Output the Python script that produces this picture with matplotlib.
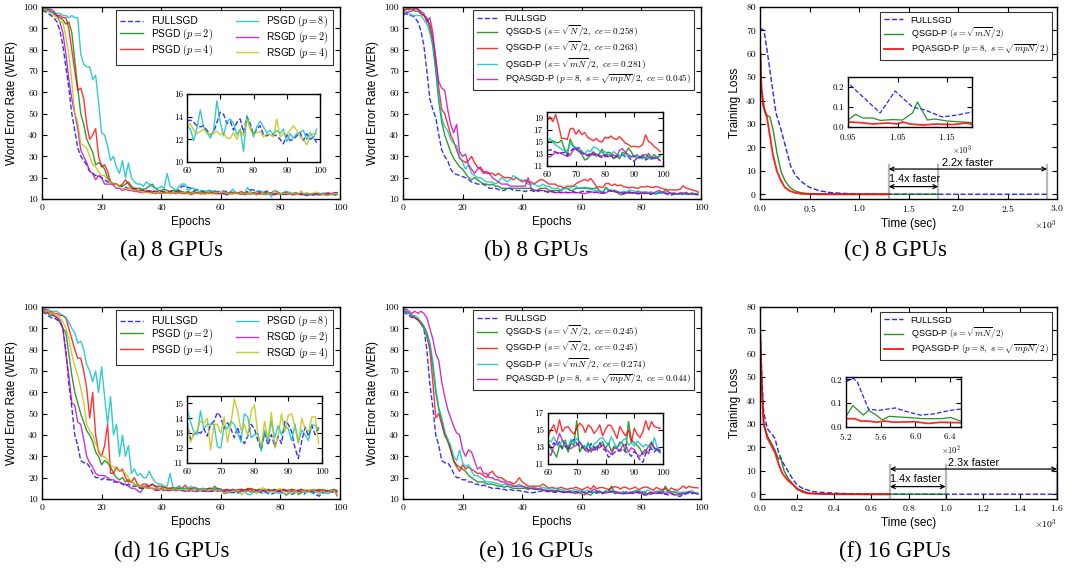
import matplotlib
matplotlib.use("Agg")
import matplotlib.pyplot as plt
from matplotlib.ticker import ScalarFormatter

plt.rcParams["font.family"] = ["Liberation Sans", "DejaVu Sans"]
plt.rcParams["mathtext.fontset"] = "cm"
plt.rcParams["axes.linewidth"] = 1.0

EPOCHS = list(range(100))

# ---- (a) 8 GPUs, PSGD / RSGD
a_full = [98, 98, 97, 96, 95, 93, 89, 82, 72, 62, 50, 42, 34, 30, 28, 26, 23, 22, 21, 21,
          20, 19, 18, 18, 17, 17, 16, 16, 15.5, 15, 15, 14.5, 14.5, 14, 14, 14, 13.5, 14, 13.5, 13.5,
          13.5, 13.5, 13, 13.5, 14, 13.5, 14.5, 16, 16, 15.5, 15, 14, 14.5, 14, 13.5, 13.5, 14, 13.5, 13.5, 13.5,
          13.6, 13.7, 13.5, 13.2, 13.1, 13.2, 12.8, 12.4, 12.6, 13.5, 14.4, 14.2, 13.4, 13.6, 12.8, 13.5, 13.8, 12.6, 14.0, 13.4,
          12.4, 12.9, 13.2, 12.4, 12.3, 12.5, 12.4, 12.3, 12.0, 11.6, 12.4, 11.9, 12.0, 12.3, 12.6, 11.9, 12.5, 12.0, 12.2, 11.7]
a_p2 = [99, 98, 99, 98, 97, 96, 95, 94, 92, 93, 88, 75, 62, 50, 45, 38, 35, 32, 26, 27,
        26, 24, 20, 18, 17, 17, 16, 16, 17, 18, 16, 15, 15, 15, 14.5, 15, 16, 17, 15, 14,
        14, 14.5, 14, 13.5, 14, 13.5, 14, 13.5, 13, 13.5, 13, 13.5, 13, 13, 13.5, 13, 12.5, 13, 13, 12.5,
        13, 12.5, 13, 13, 12.5, 13, 12.5, 12.5, 13, 12.5, 12.5, 13, 12.5, 12.5, 12.5, 13, 12.5, 12.5, 12, 12.5,
        12.5, 12, 12.5, 12.5, 12, 12.5, 12.5, 12, 12.5, 12, 12, 12.5, 12, 12, 12.5, 12, 12, 12.5, 12, 12]
a_p4 = [99, 99, 98, 98, 97, 96, 96, 95, 95, 90, 80, 70, 61, 62, 57, 45, 38, 40, 43, 30,
        25, 26, 23, 18, 17, 17, 16, 17, 19, 17, 15, 15, 14, 14, 14, 13.5, 14, 13.5, 13.5, 13,
        13.5, 13, 13, 13.5, 13, 13, 13.5, 13, 12.5, 13, 12, 13, 13, 12.5, 13, 12.5, 13, 13, 13.5, 13,
        13, 12.5, 13, 12.5, 13, 12.5, 13, 13.5, 12.5, 13, 12.5, 13, 12.5, 13, 12.5, 12.5, 13, 12.5, 12.5, 13,
        12.5, 12.5, 13, 12.5, 12.5, 13, 12.5, 12, 12.5, 12.5, 12.5, 12, 12.5, 12.5, 12, 12.5, 13, 12.5, 12.5, 13]
a_p8 = [98, 99, 99, 98, 97, 97, 97, 96, 96, 95, 96, 95, 95, 78, 73, 72, 72, 66, 68, 55,
        41, 40, 35, 28, 30, 25, 22, 28, 20, 27, 20, 18, 17, 17, 16, 18, 17, 16, 15, 15,
        16, 15, 22, 16, 15, 14, 16, 17, 17, 14, 15, 15, 14, 13.5, 14, 13.5, 14, 13.5, 14, 13,
        13.2, 12.9, 11.9, 13.0, 14.6, 13.1, 12.6, 12.1, 12.8, 15.4, 13.5, 12.3, 13.6, 13.8, 13.4, 12.4, 12.9, 10.9, 14.1, 13.2,
        12.2, 13.1, 13.6, 13.1, 12.6, 12.8, 12.4, 12.8, 12.5, 12.9, 11.8, 12.5, 12.1, 12.5, 12.6, 12.8, 12.0, 12.6, 12.1, 12.9]
a_r2 = [99, 99, 99, 99, 98, 96, 93, 88, 78, 66, 57, 50, 43, 33, 30, 27, 23, 22, 19, 21,
        20, 17, 17, 17, 16.5, 15, 15, 14, 14.5, 14, 14, 13.5, 13.5, 13, 13, 13.5, 13, 13, 12.5, 13,
        12.5, 13, 13, 12.5, 13, 12.5, 13, 12.5, 13, 12.5, 12.5, 12.5, 13, 12.5, 12.5, 12.5, 13, 12.5, 12.5, 12.5,
        12.5, 12.5, 12, 12.5, 12.5, 13, 12.5, 12.5, 12, 12.5, 12.5, 12.5, 12, 12.5, 12.5, 12, 12.5, 12.5, 12, 12.5,
        12.5, 12.5, 12, 12.5, 12, 12, 12.5, 12.5, 12, 12, 12.5, 12, 12.5, 12, 12, 12.5, 12, 12.5, 13, 13]
a_r4 = [98, 99, 98, 97, 96, 95, 93, 93, 86, 78, 65, 50, 46, 36, 35, 34, 30, 26, 25, 23,
        21, 21, 19, 18, 17, 17, 16, 15, 15, 15, 14.5, 14, 14, 13.5, 13, 13, 13, 12.5, 13, 13,
        13, 12.5, 13, 12.5, 13, 13, 12.5, 13, 13, 12.5, 12.5, 13, 12.5, 13, 12.5, 12.5, 13, 12.5, 13, 13,
        13.1, 13.4, 12.8, 12.5, 12.7, 12.9, 12.6, 12.4, 12.6, 12.7, 12.4, 12.6, 12.1, 12.1, 12.6, 12.0, 12.8, 12.3, 13.8, 12.9,
        12.5, 12.6, 12.7, 12.2, 12.5, 12.4, 12.2, 13.8, 12.2, 12.5, 12.4, 12.8, 13.2, 12.8, 12.2, 12.0, 11.5, 12.3, 12.5, 12.5]

# ---- (b) 8 GPUs, QSGD / PQASGD
b_full = [97, 97, 96, 96, 95, 93, 89, 82, 70, 57, 52, 48, 40, 33, 30, 28, 24, 22, 21.5, 21,
          20.5, 20, 19, 18, 17.5, 17, 17, 17, 16, 15, 15, 15, 14.5, 14, 14, 15, 15, 14, 14, 14,
          14, 13.5, 14, 14, 13.5, 13.5, 14, 14, 13.5, 13, 13.5, 13, 13.5, 13, 13.5, 13, 13, 13.5, 13, 13,
          13.5, 13.7, 13.6, 13.3, 13.0, 13.2, 13.3, 12.7, 13.4, 13.9, 13.6, 14.1, 13.2, 12.9, 12.7, 13.2, 12.8, 13.0, 12.6, 12.4,
          12.8, 12.5, 12.9, 12.2, 12.6, 12.7, 12.9, 12.5, 12.6, 12.0, 11.8, 12.3, 12.6, 12.4, 12.0, 12.3, 12.2, 12.4, 12.1, 12.0]
b_s = [98, 99, 99, 99, 98, 98, 97, 96, 95, 90, 82, 70, 56, 46, 40, 36, 32, 29, 27, 25,
       24, 22, 20, 19, 20, 19, 18, 17, 17, 16.5, 17, 16, 16, 15, 15, 15, 15, 15, 15, 15,
       15, 15, 15, 15, 14, 14, 15, 15, 15, 14, 14, 14, 14, 14, 15, 15, 14, 14, 15, 15,
       15.2, 15.0, 15.2, 14.9, 14.9, 15.3, 13.9, 12.8, 15.5, 14.4, 13.8, 13.4, 12.9, 12.0, 12.2, 12.9, 13.4, 12.6, 13.0, 13.8,
       12.5, 13.3, 13.2, 12.2, 12.8, 12.2, 13.3, 13.0, 14.0, 13.4, 12.5, 12.9, 12.4, 12.8, 12.2, 13.1, 12.4, 12.9, 12.3, 12.8]
b_p = [98, 99, 99, 100, 99, 99, 97, 96, 94, 92, 85, 76, 62, 52, 50, 45, 40, 37, 33, 29,
       28, 27, 28, 30, 27, 25, 24, 22, 23, 22, 22, 21, 22, 21, 20, 20, 20, 19, 20, 19,
       18, 19, 18, 18, 17, 18, 19, 19, 18, 17, 17, 17, 16, 16, 15, 16, 16, 16, 17, 18,
       18.5, 19.2, 18.4, 19.6, 17.8, 15.6, 15.6, 15.4, 17.2, 17.3, 16.3, 17.0, 16.2, 16.6, 15.8, 15.5, 15.2, 15.6, 15.1, 15.0,
       15.8, 15.6, 16.0, 15.6, 15.4, 15.9, 15.4, 14.8, 14.6, 14.2, 14.3, 14.2, 14.2, 14.6, 16.2, 15.1, 14.8, 14.2, 13.9, 13.4]
b_pm = [97, 98, 97, 96, 96, 96, 96, 94, 92, 88, 82, 72, 58, 48, 44, 42, 38, 36, 35, 30,
        27, 24, 26, 22, 21, 20, 20, 19, 18, 18, 18, 17, 18, 20, 19, 18, 19, 21, 20, 19,
        19, 18, 17, 17, 17, 16, 16, 17, 16, 16, 15, 15, 15, 14, 15, 15, 15, 16, 16, 15,
        15.1, 15.6, 14.9, 14.5, 14.2, 13.8, 13.6, 13.5, 14.8, 14.3, 14.1, 14.0, 13.5, 13.0, 13.6, 13.4, 14.2, 14.0, 13.6, 13.2,
        13.4, 13.0, 12.8, 13.4, 13.0, 12.7, 12.8, 12.9, 12.6, 12.4, 12.6, 12.8, 12.3, 12.2, 12.5, 12.3, 12.1, 12.2, 12.6, 12.5]
b_pq = [96, 97, 98, 98, 100, 99, 98, 97, 93, 95, 88, 75, 65, 62, 61, 52, 45, 41, 45, 32,
        30, 31, 26, 24, 22, 24, 25, 23, 22, 22, 20, 19, 18, 17, 17, 17, 16, 16, 16, 16,
        16, 16, 20, 15, 14, 14, 14, 14, 13.5, 13.5, 13.5, 13, 13, 13, 13, 13, 13, 13, 13, 13,
        12.7, 12.5, 12.9, 13.3, 13.2, 13.1, 12.8, 12.6, 12.8, 13.6, 14.0, 13.6, 13.2, 13.0, 12.9, 12.7, 13.2, 13.0, 12.8, 12.6,
        12.9, 12.7, 12.6, 12.9, 12.5, 13.6, 13.9, 13.3, 12.9, 12.6, 12.7, 12.4, 12.3, 12.8, 12.9, 12.6, 12.3, 12.4, 12.3, 11.9]

# ---- (d) 16 GPUs, PSGD / RSGD
d_full = [98, 97, 96, 95, 95, 94, 93, 90, 80, 64, 53, 40, 35, 28, 27, 27, 25, 22, 20, 20,
          19, 20, 19, 19, 18, 18, 18, 17, 16, 17, 16, 16, 16, 15, 15, 15, 15, 15, 15, 14,
          15, 14, 14, 14, 14, 14, 14, 14, 14, 13.5, 14, 14, 13.5, 14, 14, 13.5, 14, 13.5, 14, 14,
          13.8, 12.6, 12.9, 13.1, 13.0, 13.3, 12.8, 13.6, 13.8, 14.4, 14.1, 13.3, 13.7, 13.3, 12.7, 13.4, 12.6, 12.3, 12.8, 13.6,
          13.3, 12.5, 11.9, 13.0, 12.2, 12.9, 12.1, 12.8, 12.3, 13.8, 13.6, 13.1, 12.0, 11.3, 12.5, 13.4, 12.8, 13.5, 12.9, 13.4]
d_p2 = [98, 98, 97, 96, 96, 95, 93, 90, 88, 78, 68, 60, 55, 50, 46, 42, 40, 37, 32, 30,
        26, 28, 27, 25, 22, 20, 19, 20, 18, 19, 18, 17, 16, 15, 16, 16, 16, 17, 16, 15,
        15, 15.5, 15, 15, 14.5, 15, 15, 14.5, 15, 14.5, 14.5, 15, 14.5, 14.5, 14, 14.5, 15, 14.5, 16, 14.5,
        14.5, 14, 14.5, 14, 14.5, 14, 14, 14.5, 14, 15, 14.5, 14, 14, 14.5, 14, 14.5, 14, 14, 14.5, 14,
        14, 14.5, 14, 14, 14.5, 14, 14, 14.5, 14, 14, 14, 14.5, 14, 14, 14.5, 14, 14, 14, 14.5, 14]
d_p4 = [99, 98, 97, 98, 97, 97, 96, 96, 95, 90, 85, 80, 76, 76, 70, 62, 48, 60, 40, 32,
        30, 35, 45, 22, 22, 25, 23, 24, 20, 18, 18, 20, 17, 16, 17, 17, 16, 17, 16, 16,
        16, 15.5, 15, 15, 15.5, 15, 16, 15, 16.5, 15, 15, 15.5, 15, 14.5, 15, 14.5, 15, 15, 14.5, 15,
        14.5, 14, 14.5, 14, 14.5, 14, 14.5, 14.5, 14, 14.5, 15, 14.5, 14, 14.5, 14, 14, 14.5, 14, 14.5, 14,
        14, 14.5, 14, 14, 14.5, 14, 14, 14.5, 14, 14, 13.5, 14, 14, 14.5, 14, 14, 13.5, 14, 14.5, 11.5]
d_p8 = [99, 99, 99, 98, 98, 98, 97, 96, 95, 93, 90, 88, 83, 84, 80, 73, 70, 65, 70, 60,
        72, 58, 45, 58, 40, 45, 30, 40, 30, 35, 22, 24, 21, 22, 20, 20, 23, 20, 18, 17,
        17, 16, 16, 22, 15, 15, 16, 15, 15, 15, 16, 15, 15, 14.5, 15, 14.5, 14, 14.5, 15, 14,
        14.7, 13.8, 13.1, 12.9, 14.5, 13.3, 13.6, 13.6, 13.6, 12.1, 12.0, 13.5, 13.3, 13.8, 13.6, 13.0, 12.4, 14.3, 14.1, 12.7,
        12.9, 13.0, 11.8, 13.2, 12.4, 13.8, 12.7, 13.5, 12.9, 13.5, 13.3, 12.5, 13.6, 12.4, 13.2, 12.9, 12.5, 13.6, 13.5, 13.2]
d_r2 = [98, 99, 98, 97, 96, 95, 94, 90, 78, 68, 55, 54, 46, 45, 38, 30, 27, 25, 22, 21,
        21, 21, 20, 19, 19, 18, 18, 17, 17, 16, 15, 15, 14, 13, 15, 16, 15, 15, 14, 14,
        14.5, 14, 14.5, 14, 14, 14.5, 14, 14, 13.5, 14, 14, 13.5, 14, 14, 13.5, 14, 13.5, 14, 14, 13.5,
        14, 13.5, 14, 13.5, 14, 14, 13.5, 14, 13.5, 14, 13.5, 14, 14, 13.5, 14, 13.5, 14, 13.5, 14, 13.5,
        13.5, 14, 13.5, 14, 13.5, 14, 13.5, 13.5, 14, 13.5, 14, 13.5, 14, 13.5, 13.5, 14, 13.5, 14, 14, 13.5]
d_r4 = [99, 98, 98, 97, 97, 96, 95, 93, 90, 85, 78, 72, 68, 62, 55, 45, 42, 40, 36, 33,
        30, 30, 28, 26, 25, 24, 23, 23, 22, 20, 18, 17, 16, 16, 16, 15, 15, 15, 15, 15,
        14.5, 15, 14.5, 14.5, 14, 14.5, 14, 14.5, 14, 14.5, 14, 14.5, 14, 14, 14.5, 14, 14, 14.5, 14, 14,
        13.9, 12.4, 12.9, 13.2, 13.8, 13.7, 14.0, 11.9, 13.6, 13.6, 13.0, 14.1, 12.4, 13.6, 15.3, 14.5, 13.2, 13.6, 12.8, 14.5,
        14.9, 12.9, 12.1, 13.8, 12.5, 14.4, 12.0, 12.7, 14.3, 13.1, 14.2, 14.3, 13.4, 12.3, 14.0, 13.3, 13.1, 14.1, 14.1, 12.3]

# ---- (e) 16 GPUs, QSGD / PQASGD
e_full = [98, 97, 96, 95, 95, 94, 93, 90, 80, 64, 53, 40, 35, 28, 27, 27, 25, 22, 20, 20,
          19, 19, 18, 18, 17, 17, 16, 16.5, 16, 15.5, 15, 15, 15, 14.5, 14.5, 14, 14.5, 14, 14, 14,
          13.5, 13.5, 13, 13, 13, 13.5, 13.5, 14, 13.5, 13.5, 13.5, 13, 13.5, 13.5, 13, 13.5, 13.5, 13, 13.5, 13.5,
          13.4, 13.0, 13.5, 13.1, 13.6, 12.8, 13.1, 12.6, 13.6, 13.9, 13.4, 13.1, 12.9, 13.2, 12.6, 13.4, 13.0, 12.5, 13.5, 12.8,
          12.6, 11.8, 12.0, 12.3, 12.6, 12.5, 12.8, 12.4, 12.3, 11.9, 12.5, 12.0, 11.5, 11.2, 12.2, 12.6, 12.8, 12.4, 12.9, 12.5]
e_s = [98, 98, 97, 96, 95, 94, 93, 91, 88, 83, 72, 60, 52, 47, 40, 37, 33, 28, 26, 25,
       24, 23, 21, 20, 19, 18, 18, 18, 17, 17, 17, 16.5, 16, 16, 15.5, 16, 15.5, 15, 15, 15,
       15, 15, 14.5, 15, 14.5, 14.5, 15, 14.5, 14, 14, 14, 13.5, 14, 13.5, 13.5, 13, 13.5, 13, 12.5, 13,
       13.5, 12.8, 12.4, 11.8, 13.2, 12.8, 13.8, 12.4, 13.5, 13.2, 16.1, 12.4, 13.1, 12.6, 13.5, 12.4, 13.0, 12.9, 13.4, 13.6,
       12.8, 13.5, 12.5, 13.1, 12.9, 13.6, 13.4, 12.5, 16.0, 13.8, 13.5, 13.2, 12.8, 12.1, 12.5, 13.1, 13.6, 12.8, 12.6, 12.3]
e_p = [98, 98, 97, 96, 95, 94, 92, 90, 86, 80, 65, 48, 50, 45, 40, 38, 33, 28, 25, 23,
       26, 24, 25, 24, 23, 22, 22, 21, 20, 22, 23, 21, 20, 20, 19, 18, 18, 17, 18, 20,
       18, 17, 16, 16, 16, 16, 16, 17, 16, 15, 15.5, 15, 15, 15.5, 15, 14.5, 15, 15, 15.5, 15,
       14.2, 15.0, 15.6, 14.6, 16.2, 14.8, 15.3, 15.4, 14.9, 14.5, 15.2, 15.8, 15.5, 14.7, 15.6, 15.3, 14.6, 15.0, 15.6, 14.3,
       15.1, 15.6, 15.5, 14.8, 14.0, 15.4, 14.8, 14.3, 15.0, 13.5, 15.2, 14.5, 14.1, 14.8, 16.1, 15.0, 16.0, 15.4, 15.3, 15.2]
e_pm = [97, 98, 97, 96, 96, 95, 93, 90, 86, 83, 75, 62, 53, 48, 42, 38, 35, 30, 28, 33,
        27, 25, 26, 23, 21, 21, 20, 19, 18, 18, 18, 17.5, 17, 16.5, 17, 16.5, 16, 16, 16, 17,
        16, 15.5, 15.5, 15, 15.5, 15, 15, 15.5, 15, 15, 14.5, 15, 14.5, 14.5, 14, 14.5, 14, 14, 14.5, 14,
        13.8, 13.6, 14.2, 13.5, 13.2, 13.8, 13.6, 13.0, 13.9, 13.5, 14.0, 13.6, 13.2, 12.9, 13.4, 12.8, 13.3, 13.6, 14.0, 14.1,
        13.6, 13.2, 14.2, 13.5, 12.9, 13.2, 13.8, 14.0, 13.2, 13.5, 13.1, 13.7, 13.4, 13.0, 13.3, 13.1, 12.8, 14.1, 12.9, 12.7]
e_pq = [99, 99, 98, 97, 98, 97, 98, 97, 95, 90, 85, 78, 75, 65, 58, 52, 48, 44, 41, 40,
        33, 30, 33, 32, 28, 24, 25, 22, 22, 20, 20, 19, 19, 18, 18, 17, 17, 16, 16, 16,
        16, 15.5, 15, 15, 15, 14.5, 14.5, 14, 14, 14, 13.5, 14, 13.5, 13.5, 13, 13.5, 13, 13, 13.5, 13,
        12.3, 12.0, 13.1, 13.5, 14.6, 13.8, 13.2, 13.0, 12.8, 13.1, 13.2, 13.6, 13.0, 12.6, 12.4, 12.8, 12.6, 13.1, 12.9, 13.3,
        12.8, 12.5, 12.1, 12.9, 12.8, 12.6, 13.2, 13.3, 12.4, 12.9, 12.7, 12.1, 11.9, 12.4, 12.7, 12.2, 13.5, 12.9, 12.7, 12.5]

# ---- (c) 8 GPUs, training loss vs time (sec)
c_full_t = [0, 40, 70, 110, 160, 210, 260, 310, 360, 430, 500, 600, 700, 800, 900,
            950, 1015, 1045, 1080, 1105, 1140, 1170, 1200, 1400, 1600, 1800, 2000, 2200, 2400, 2600, 2900]
c_full_y = [71, 70, 62, 50, 35, 28, 20, 12, 8, 5, 3, 1.5, 0.8, 0.5, 0.3,
            0.22, 0.07, 0.18, 0.10, 0.085, 0.05, 0.06, 0.075, 0.06, 0.05, 0.05, 0.04, 0.04, 0.04, 0.03, 0.03]
c_q_t = [0, 15, 30, 60, 100, 130, 170, 210, 250, 300, 350, 420, 500, 700, 900,
         950, 965, 980, 1000, 1015, 1040, 1060, 1080, 1090, 1110, 1125, 1150, 1180, 1200, 1500, 1800]
c_q_y = [68, 45, 38, 34, 33, 28, 18, 10, 6, 3, 1.5, 0.6, 0.3, 0.1, 0.05,
         0.035, 0.063, 0.045, 0.045, 0.033, 0.037, 0.035, 0.07, 0.125, 0.035, 0.04, 0.03, 0.025, 0.022, 0.02, 0.02]
c_pq_t = [0, 15, 40, 70, 100, 130, 170, 210, 250, 300, 350, 420, 600, 800,
          950, 975, 1000, 1030, 1050, 1060, 1075, 1100, 1130, 1160, 1190, 1200, 1300]
c_pq_y = [63, 45, 37, 33, 25, 17, 10, 6, 3, 1.5, 0.7, 0.2, 0.05, 0.03,
          0.025, 0.022, 0.015, 0.02, 0.015, 0.025, 0.015, 0.01, 0.015, 0.012, 0.02, 0.012, 0.012]

# ---- (f) 16 GPUs, training loss vs time (sec)
f_full_t = [0, 10, 20, 40, 60, 80, 100, 120, 150, 180, 200, 230, 270, 300, 400, 500,
            520, 528, 533, 546, 558, 577, 590, 606, 621, 641, 652, 700, 900, 1100, 1300, 1600]
f_full_y = [75, 50, 35, 28, 26, 24, 18, 14, 10, 6, 4, 2.5, 1.5, 1, 0.5, 0.2,
            0.19, 0.205, 0.19, 0.075, 0.07, 0.08, 0.065, 0.05, 0.055, 0.07, 0.075, 0.06, 0.05, 0.04, 0.04, 0.03]
f_q_t = [0, 10, 20, 40, 60, 80, 100, 110, 130, 150, 180, 200, 230, 260, 300, 450,
         520, 528, 540, 546, 555, 562, 570, 590, 610, 630, 641, 652, 800, 1000]
f_q_y = [70, 45, 30, 25, 22, 19, 15, 16, 10, 7, 4, 2, 1.5, 0.5, 0.3, 0.1,
         0.045, 0.09, 0.05, 0.07, 0.05, 0.03, 0.045, 0.04, 0.035, 0.035, 0.04, 0.025, 0.02, 0.02]
f_pq_t = [0, 10, 20, 40, 60, 80, 100, 120, 150, 180, 200, 230, 260, 350, 450,
          520, 530, 537, 545, 555, 565, 575, 600, 615, 630, 652, 700]
f_pq_y = [72, 45, 30, 24, 21, 18, 13, 9, 6, 4, 2.5, 1, 0.4, 0.1, 0.05,
          0.035, 0.035, 0.025, 0.025, 0.02, 0.025, 0.02, 0.022, 0.015, 0.02, 0.018, 0.015]

BLUE, GREEN, RED = "#0000ff", "#008000", "#ff0000"
CYAN, MAGENTA, YELLOW = "#00bfbf", "#bf00bf", "#bfbf00"
TICK_FONT = "cmr10"

W, H = 1068, 569


def box(l, t, r, b):
    """pixel box (left, top, right, bottom) -> figure coords."""
    return [l / W, 1 - b / H, (r - l) / W, (b - t) / H]


def style_axes(ax, size=7):
    ax.tick_params(direction="in", top=True, right=True, length=3.5, width=0.8,
                   labelsize=size, labelfontfamily=TICK_FONT, pad=3)


def frame_legend(leg):
    leg.get_frame().set_edgecolor("black")
    leg.get_frame().set_linewidth(0.8)


def plot_epochs(fig, rect, inset_rect, series, inset_keys, inset_ylim, inset_yticks,
                legend_kw):
    ax = fig.add_axes(box(*rect))
    for key, (y, color, ls, label) in series.items():
        ax.plot(EPOCHS, y, color=color, linestyle=ls, linewidth=1.0, alpha=0.8, label=label)
    ax.set_xlim(0, 100)
    ax.set_ylim(10, 100)
    ax.set_xticks(range(0, 101, 20))
    ax.set_yticks(range(10, 101, 10))
    ax.set_xlabel("Epochs", fontsize=8.5, labelpad=3)
    ax.set_ylabel("Word Error Rate (WER)", fontsize=8.5, labelpad=4)
    style_axes(ax)
    leg = ax.legend(loc="upper right", bbox_to_anchor=(0.977, 0.984), borderaxespad=0,
                    frameon=True, fancybox=False, handlelength=2.2, **legend_kw)
    frame_legend(leg)

    ins = fig.add_axes(box(*inset_rect))
    for key in inset_keys:
        y, color, ls, _ = series[key]
        ins.plot(EPOCHS[60:], y[60:], color=color, linestyle=ls, linewidth=1.0, alpha=0.8)
    ins.set_xlim(60, 100)
    ins.set_ylim(*inset_ylim)
    ins.set_xticks(range(60, 101, 10))
    ins.set_yticks(inset_yticks)
    style_axes(ins, size=6.5)
    return ax


def plot_loss(fig, rect, inset_rect, series, xmax, xstep, inset_xlim, inset_xticks, inset_pow,
              inset_ylim, marks, speedups):
    ax = fig.add_axes(box(*rect))
    for t, y, color, ls, lw, label in series:
        ax.plot(t, y, color=color, linestyle=ls, linewidth=lw, alpha=0.85, label=label)
    start, mid, end = marks
    for x in marks:
        ax.plot([x, x], [-2.5, 12.5], color="#b8b8b8", linewidth=1.6, zorder=0.5)
    arrow = dict(arrowstyle="<->", color="black", lw=0.9, mutation_scale=7,
                 shrinkA=0, shrinkB=0)
    ax.annotate("", xy=(end, 10.8), xytext=(start, 10.8), arrowprops=arrow)
    ax.annotate("", xy=(mid, 3.3), xytext=(start, 3.3), arrowprops=arrow)
    ax.text((start + end) / 2, 13.4, speedups[1], ha="center", va="center", fontsize=7.8)
    ax.text(start, 6.6, speedups[0], ha="left", va="center", fontsize=7.8)

    ax.set_xlim(0, xmax)
    ax.set_ylim(-2, 80)
    ax.set_xticks(range(0, xmax + 1, xstep))
    ax.set_yticks(range(0, 81, 10))
    fmt = ScalarFormatter(useMathText=True)
    fmt.set_powerlimits((-3, 3))
    ax.xaxis.set_major_formatter(fmt)
    ax.set_xlabel("Time (sec)", fontsize=8.5, labelpad=3)
    ax.set_ylabel("Training Loss", fontsize=8.5, labelpad=4)
    style_axes(ax)
    ax.xaxis.get_offset_text().set_fontsize(7)
    ax.xaxis.get_offset_text().set_family(TICK_FONT)
    leg = ax.legend(loc="upper right", bbox_to_anchor=(0.983, 0.974), borderaxespad=0,
                    frameon=True, fancybox=False, handlelength=2.2, fontsize=6.5,
                    labelspacing=0.12)
    frame_legend(leg)

    ins = fig.add_axes(box(*inset_rect))
    for t, y, color, ls, lw, label in series:
        ins.plot(t, y, color=color, linestyle=ls, linewidth=lw * 0.9, alpha=0.85)
    ins.set_xlim(*inset_xlim)
    ins.set_ylim(*inset_ylim)
    ins.set_xticks(inset_xticks)
    ins.set_yticks([0.0, 0.1, 0.2])
    ifmt = ScalarFormatter(useMathText=True, useOffset=False)
    ifmt.set_powerlimits((-inset_pow, inset_pow))
    ins.xaxis.set_major_formatter(ifmt)
    style_axes(ins, size=6.5)
    # the scale factor sits just under the inset tick labels
    ins.xaxis.get_offset_text().set_visible(False)
    ins.text(1.0, -0.47, r"$\times10^{%d}$" % inset_pow, transform=ins.transAxes,
             ha="right", va="center", fontsize=6.2)
    return ax


fig = plt.figure(figsize=(W / 100, H / 100), dpi=100)
fig.patch.set_facecolor("white")

psgd_legend = dict(ncol=2, fontsize=7.3, columnspacing=2.3, labelspacing=0.05)
qsgd_legend = dict(ncol=1, fontsize=6.6, labelspacing=0.08)

# (a)
plot_epochs(fig, (42, 7, 340, 199), (187, 94, 320, 162), {
    "full": (a_full, BLUE, "--", "FULLSGD"),
    "p2": (a_p2, GREEN, "-", r"PSGD $(p=2)$"),
    "p4": (a_p4, RED, "-", r"PSGD $(p=4)$"),
    "p8": (a_p8, CYAN, "-", r"PSGD $(p=8)$"),
    "r2": (a_r2, MAGENTA, "-", r"RSGD $(p=2)$"),
    "r4": (a_r4, YELLOW, "-", r"RSGD $(p=4)$"),
}, ["full", "p8", "r4"], (10, 16), [10, 12, 14, 16], psgd_legend)

# (b)
plot_epochs(fig, (403, 7, 701, 199), (547, 112, 663, 166), {
    "full": (b_full, BLUE, "--", "FULLSGD"),
    "s": (b_s, GREEN, "-", r"QSGD-S $(s=\sqrt{N}/2,\ ce=0.258)$"),
    "p": (b_p, RED, "-", r"QSGD-P $(s=\sqrt{N}/2,\ ce=0.263)$"),
    "pm": (b_pm, CYAN, "-", r"QSGD-P $(s=\sqrt{mN}/2,\ ce=0.281)$"),
    "pq": (b_pq, MAGENTA, "-", r"PQASGD-P $(p=8,\ s=\sqrt{mpN}/2,\ ce=0.045)$"),
}, ["full", "s", "p", "pm", "pq"], (11, 20), [11, 13, 15, 17, 19], qsgd_legend)

# (d)
plot_epochs(fig, (42, 307, 340, 499), (187, 396, 322, 463), {
    "full": (d_full, BLUE, "--", "FULLSGD"),
    "p2": (d_p2, GREEN, "-", r"PSGD $(p=2)$"),
    "p4": (d_p4, RED, "-", r"PSGD $(p=4)$"),
    "p8": (d_p8, CYAN, "-", r"PSGD $(p=8)$"),
    "r2": (d_r2, MAGENTA, "-", r"RSGD $(p=2)$"),
    "r4": (d_r4, YELLOW, "-", r"RSGD $(p=4)$"),
}, ["full", "p8", "r4"], (11, 15.5), [11, 12, 13, 14, 15], psgd_legend)

# (e)
plot_epochs(fig, (403, 307, 701, 499), (548, 413, 663, 464), {
    "full": (e_full, BLUE, "--", "FULLSGD"),
    "s": (e_s, GREEN, "-", r"QSGD-S $(s=\sqrt{N}/2,\ ce=0.245)$"),
    "p": (e_p, RED, "-", r"QSGD-P $(s=\sqrt{N}/2,\ ce=0.245)$"),
    "pm": (e_pm, CYAN, "-", r"QSGD-P $(s=\sqrt{mN}/2,\ ce=0.274)$"),
    "pq": (e_pq, MAGENTA, "-", r"PQASGD-P $(p=8,\ s=\sqrt{mpN}/2,\ ce=0.044)$"),
}, ["full", "s", "p", "pm", "pq"], (11, 17), [11, 13, 15, 17], qsgd_legend)

# (c)
plot_loss(fig, (760, 7, 1057, 199), (848, 77, 972, 127), [
    (c_full_t, c_full_y, BLUE, "--", 1.0, "FULLSGD"),
    (c_q_t, c_q_y, GREEN, "-", 1.0, r"QSGD-P $(s=\sqrt{mN}/2)$"),
    (c_pq_t, c_pq_y, RED, "-", 1.4, r"PQASGD-P $(p=8,\ s=\sqrt{mpN}/2)$"),
], 3000, 500, (950, 1200), [950, 1050, 1150], 3, (0, 0.25),
    (1300, 1800, 2900), ("1.4x faster", "2.2x faster"))

# (f)
plot_loss(fig, (760, 307, 1057, 499), (846, 377, 961, 427), [
    (f_full_t, f_full_y, BLUE, "--", 1.0, "FULLSGD"),
    (f_q_t, f_q_y, GREEN, "-", 1.0, r"QSGD-P $(s=\sqrt{mN}/2)$"),
    (f_pq_t, f_pq_y, RED, "-", 1.4, r"PQASGD-P $(p=8,\ s=\sqrt{mpN}/2)$"),
], 1600, 200, (520, 653), [520, 560, 600, 640], 2, (0, 0.21),
    (700, 1000, 1600), ("1.4x faster", "2.3x faster"))

captions = [("(a) 8 GPUs", 172, 250), ("(b) 8 GPUs", 536, 250), ("(c) 8 GPUs", 895, 250),
            ("(d) 16 GPUs", 172, 551), ("(e) 16 GPUs", 536, 551), ("(f) 16 GPUs", 895, 551)]
for text, x, y in captions:
    fig.text(x / W, 1 - y / H, text, ha="center", va="center", fontsize=16.5,
             family="Liberation Serif")

fig.savefig("out.png", dpi=100)
